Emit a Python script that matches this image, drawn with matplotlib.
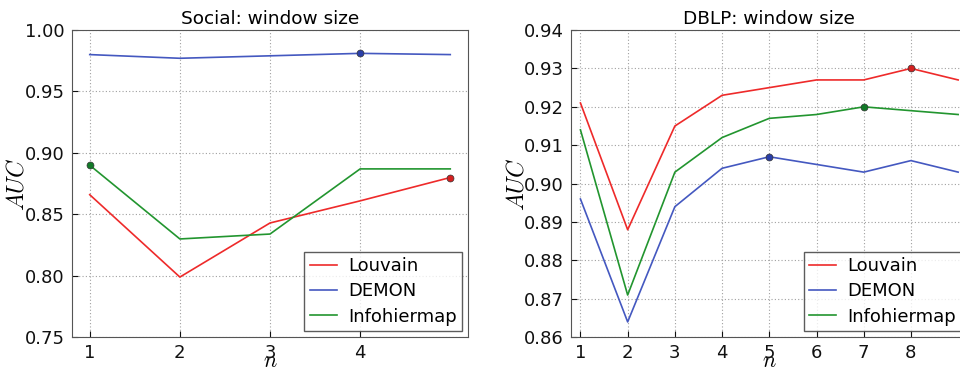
import matplotlib
matplotlib.use("Agg")
import matplotlib.pyplot as plt

plt.rcParams['mathtext.fontset'] = 'cm'
plt.rcParams['font.family'] = ['DejaVu Sans']

# Social panel
social_n = [1, 2, 3, 4, 5]
social_louvain = [0.866, 0.799, 0.843, 0.861, 0.880]
social_demon = [0.980, 0.977, 0.979, 0.981, 0.980]
social_info = [0.890, 0.830, 0.834, 0.887, 0.887]
social_xticks = [1, 2, 3, 4]
social_yticks = [0.75, 0.80, 0.85, 0.90, 0.95, 1.00]

# DBLP panel
dblp_n = [1, 2, 3, 4, 5, 6, 7, 8, 9]
dblp_louvain = [0.921, 0.888, 0.915, 0.923, 0.925, 0.927, 0.927, 0.930, 0.927]
dblp_demon = [0.896, 0.864, 0.894, 0.904, 0.907, 0.905, 0.903, 0.906, 0.903]
dblp_info = [0.914, 0.871, 0.903, 0.912, 0.917, 0.918, 0.920, 0.919, 0.918]
dblp_xticks = [1, 2, 3, 4, 5, 6, 7, 8]
dblp_yticks = [0.86, 0.87, 0.88, 0.89, 0.90, 0.91, 0.92, 0.93, 0.94]

names = ['Louvain', 'DEMON', 'Infohiermap']
colors = ['#ee2a2a', '#4458c0', '#22952f']
mcolors = ['#d42020', '#2a3fa8', '#127a28']

fig = plt.figure(figsize=(9.6, 3.7), dpi=100)
ax1 = fig.add_axes([0.0747, 0.0884, 0.4131, 0.8305])
ax2 = fig.add_axes([0.5948, 0.0884, 0.4131, 0.8305])

def draw(ax, xs, series, title, xlim, ylim, xticks, yticks, fmt):
    for ys, name, c, mc in zip(series, names, colors, mcolors):
        ax.plot(xs, ys, color=c, lw=1.2, label=name)
        i = max(range(len(ys)), key=lambda k: ys[k])
        ax.plot([xs[i]], [ys[i]], 'o', color=mc, ms=5, mec='#333333', mew=0.5)
    ax.set_xlim(*xlim)
    ax.set_ylim(*ylim)
    ax.set_xticks(xticks)
    ax.set_yticks(yticks)
    ax.set_yticklabels([fmt.format(v) for v in yticks])
    ax.grid(True, ls=(0, (1, 2)), color='#a0a0a0', lw=0.8)
    ax.tick_params(direction='in', labelsize=13, colors='#111111', length=4, pad=5)
    for s in ax.spines.values():
        s.set_color('#555555')
    ax.set_title(title, fontsize=13.3, pad=4)
    ax.set_ylabel('$AUC$', fontsize=17, labelpad=-3)
    ax.set_xlabel('$n$', fontsize=16)
    ax.xaxis.set_label_coords(0.5, -0.098)
    ax.xaxis.label.set_va('baseline')
    leg = ax.legend(loc='lower right', fontsize=13, fancybox=False,
                    handlelength=1.5, borderpad=0.3, labelspacing=0.4,
                    handletextpad=0.6, borderaxespad=0.35)
    leg.get_frame().set_edgecolor('#333333')
    leg.get_frame().set_linewidth(1.0)

draw(ax1, social_n, [social_louvain, social_demon, social_info],
     'Social: window size', (0.8, 5.2), (0.75, 1.00), social_xticks,
     social_yticks, '{:.2f}')
draw(ax2, dblp_n, [dblp_louvain, dblp_demon, dblp_info],
     'DBLP: window size', (0.8, 9.2), (0.86, 0.94), dblp_xticks,
     dblp_yticks, '{:.2f}')

fig.savefig('out.png', dpi=100)
